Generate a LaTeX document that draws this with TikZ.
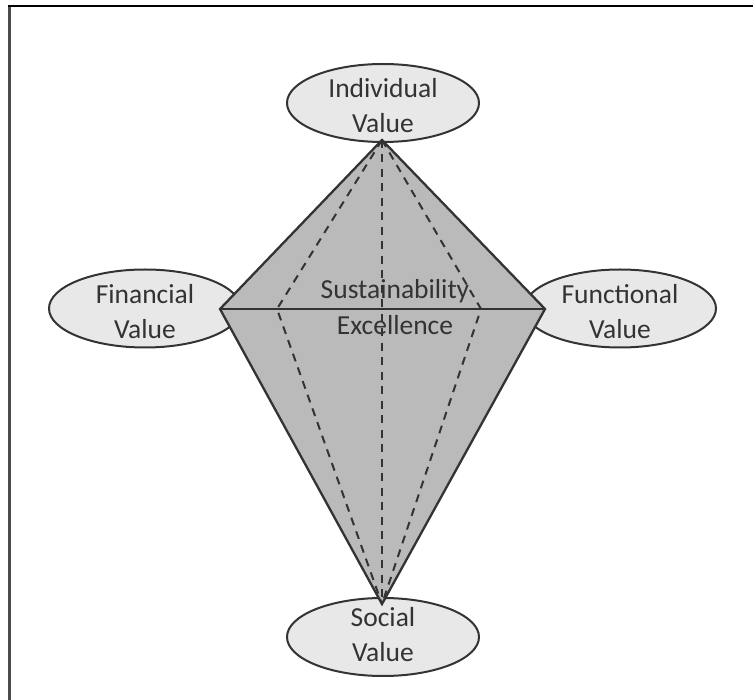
\documentclass[tikz,border=0pt]{standalone}
\usepackage{fontspec}
\setmainfont{Carlito}
\definecolor{ink}{gray}{0.2}
\definecolor{solidgray}{gray}{0.73}
\definecolor{ovalgray}{gray}{0.91}
\tikzset{
  valueoval/.style={ellipse, draw=ink, fill=ovalgray, line width=2pt, minimum width=192pt, minimum height=78pt, inner sep=0pt},
  ovaltext/.style={text=ink, inner sep=0pt, align=center, font=\fontsize{27.5}{35}\selectfont},
  solidedge/.style={draw=ink, line width=2.3pt, line join=miter},
  hiddenedge/.style={draw=ink, line width=2pt, dash pattern=on 8pt off 6.5pt},
  centrelabel/.style={text=ink, font=\fontsize{27.5}{34}\selectfont, inner sep=0pt, align=center},
  frameline/.style={line width=2pt}
}
\usetikzlibrary{shapes.geometric}
\begin{document}
\begin{tikzpicture}[x=1pt,y=-1pt]
\useasboundingbox (0,0) rectangle (753,700);
\coordinate (fa) at (9,700);
\coordinate (fb) at (9,6);
\coordinate (fc) at (753,6);
\draw[line width=3pt, draw=black!70] (fa) -- (fb);
\draw[frameline, draw=black] (7.5,6) -- (fc);

\node[valueoval] (ind) at (383,103) {};
\node[valueoval] (fin) at (145,308.5) {};
\node[valueoval] (fun) at (620,308.5) {};
\node[valueoval] (soc) at (383,637) {};
\node[ovaltext] (indt) at (383,106) {Individual\\Value};
\node[ovaltext] (fint) at (145,312) {Financial\\Value};
\node[ovaltext] (funt) at (620,312) {Functional\\Value};
\node[ovaltext] (soct) at (383,634.5) {Social\\Value};

\coordinate (T) at (382,140);
\coordinate (L) at (220,309);
\coordinate (R) at (545,309);
\coordinate (B) at (382,604);
\coordinate (BL) at (277,309);
\coordinate (BR) at (481,309);

\fill[solidgray] (T) -- (R) -- (B) -- (L) -- cycle;
\node[centrelabel] (sus) at (395,291) {Sustainability};
\node[centrelabel] (exc) at (395,325) {Excellence};
\draw[solidedge] (T) -- (R) -- (B) -- (L) -- cycle;
\draw[solidedge, line width=2.6pt] (L) -- (R);
\draw[hiddenedge] (T) -- (B);
\draw[hiddenedge] (T) -- (BL) -- (B);
\draw[hiddenedge] (T) -- (BR) -- (B);
\end{tikzpicture}
\end{document}
